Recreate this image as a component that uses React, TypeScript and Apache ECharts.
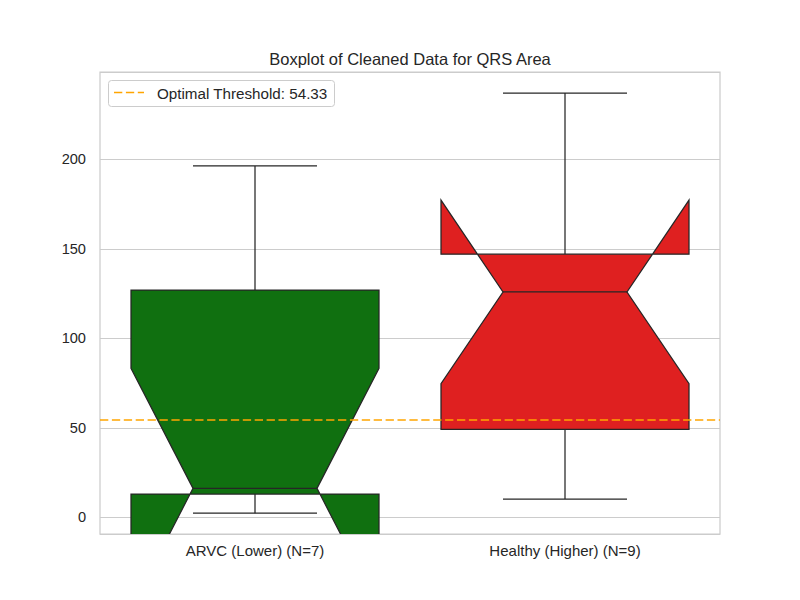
import React, { useEffect, useRef } from "react";
import * as echarts from "echarts";

const categories = ["ARVC (Lower) (N=7)", "Healthy (Higher) (N=9)"];
const whiskerLow = [2.3, 10.2];
const q1Values = [13.0, 49.2];
const medianValues = [16.2, 125.9];
const q3Values = [127.0, 147.0];
const whiskerHigh = [196.3, 237.0];
const notchLow = [-51.0, 74.7];
const notchHigh = [83.3, 177.2];
const boxColors = ["#107010", "#df2020"];
const thresholdValue = 54.33;
const thresholdLabel = "Optimal Threshold: 54.33";
const titleText = "Boxplot of Cleaned Data for QRS Area";

const FONT = "'Liberation Sans', Arial, sans-serif";
const TEXT = "#262626";
const EDGE = "#262626";

export default function App() {
  const ref = useRef<HTMLDivElement>(null);
  useEffect(() => {
    if (!ref.current) return;
    const chart = echarts.init(ref.current, undefined, { renderer: "svg" });
    const data = categories.map((_, i) => [
      i,
      whiskerLow[i],
      q1Values[i],
      medianValues[i],
      q3Values[i],
      whiskerHigh[i],
      notchLow[i],
      notchHigh[i],
    ]);
    const option: any = {
      animation: false,
      backgroundColor: "#ffffff",
      textStyle: { fontFamily: FONT },
      grid: {
        left: 100,
        right: 80,
        top: 72,
        bottom: 66,
        show: true,
        borderColor: "#cccccc",
        borderWidth: 1.25,
        backgroundColor: "#ffffff",
      },
      xAxis: {
        type: "category",
        data: categories,
        boundaryGap: true,
        axisLine: { show: false },
        axisTick: { show: false },
        splitLine: { show: false },
        axisLabel: { color: TEXT, fontSize: 15, fontFamily: FONT, margin: 9 },
      },
      yAxis: {
        type: "value",
        min: -9.3,
        max: 248.8,
        splitNumber: 5,
        axisLine: { show: false },
        axisTick: { show: false },
        splitLine: { show: true, lineStyle: { color: "#cccccc", width: 1 } },
        axisLabel: {
          color: TEXT,
          fontSize: 14.6,
          fontFamily: FONT,
          margin: 14,
          showMinLabel: false,
          showMaxLabel: false,
        },
      },
      series: [
        {
          type: "custom",
          clip: true,
          data,
          renderItem: (params: any, api: any) => {
            const idx = api.value(0);
            const bw = api.size([1, 0])[0] * 0.8;
            const cx = api.coord([idx, 0])[0];
            const left = cx - bw / 2;
            const right = cx + bw / 2;
            const capL = cx - bw / 4;
            const capR = cx + bw / 4;
            const y = (v: number) => api.coord([idx, v])[1];
            const wlo = y(api.value(1));
            const q1 = y(api.value(2));
            const med = y(api.value(3));
            const q3 = y(api.value(4));
            const whi = y(api.value(5));
            const nlo = y(api.value(6));
            const nhi = y(api.value(7));
            const lineStyle = { stroke: EDGE, lineWidth: 1.25 };
            return {
              type: "group",
              children: [
                { type: "line", shape: { x1: cx, y1: q1, x2: cx, y2: wlo }, style: lineStyle },
                { type: "line", shape: { x1: cx, y1: q3, x2: cx, y2: whi }, style: lineStyle },
                { type: "line", shape: { x1: capL, y1: wlo, x2: capR, y2: wlo }, style: lineStyle },
                { type: "line", shape: { x1: capL, y1: whi, x2: capR, y2: whi }, style: lineStyle },
                {
                  type: "polygon",
                  shape: {
                    points: [
                      [left, q1],
                      [right, q1],
                      [right, nlo],
                      [capR, med],
                      [right, nhi],
                      [right, q3],
                      [left, q3],
                      [left, nhi],
                      [capL, med],
                      [left, nlo],
                    ],
                  },
                  style: { fill: boxColors[idx], stroke: EDGE, lineWidth: 1.25, lineJoin: "miter" },
                },
                { type: "line", shape: { x1: capL, y1: med, x2: capR, y2: med }, style: lineStyle },
              ],
            };
          },
          markLine: {
            silent: true,
            symbol: ["none", "none"],
            label: { show: false },
            lineStyle: { color: "#ffa500", type: [8.3, 3.6], width: 1.5 },
            data: [{ yAxis: thresholdValue }],
          },
        },
      ],
      graphic: [
        {
          type: "text",
          x: 410,
          y: 58.5,
          style: {
            text: titleText,
            fill: TEXT,
            fontSize: 16.5,
            fontFamily: FONT,
            textAlign: "center",
            textVerticalAlign: "middle",
          },
        },
        {
          type: "rect",
          shape: { x: 108.5, y: 80.5, width: 226, height: 26, r: 3 },
          style: { fill: "rgba(255,255,255,0.8)", stroke: "#cccccc", lineWidth: 1 },
          z: 100,
        },
        {
          type: "line",
          shape: { x1: 114, y1: 92.5, x2: 144, y2: 92.5 },
          style: { stroke: "#ffa500", lineWidth: 1.5, lineDash: [8.3, 3.6] },
          z: 101,
        },
        {
          type: "text",
          x: 157,
          y: 93,
          style: {
            text: thresholdLabel,
            fill: TEXT,
            fontSize: 15.2,
            fontFamily: FONT,
            textAlign: "left",
            textVerticalAlign: "middle",
          },
          z: 101,
        },
      ],
    };
    chart.setOption(option);
    return () => chart.dispose();
  }, []);
  return (
    <div
      ref={ref}
      style={{ position: "absolute", left: 0, top: 0, width: 800, height: 600 }}
    />
  );
}
